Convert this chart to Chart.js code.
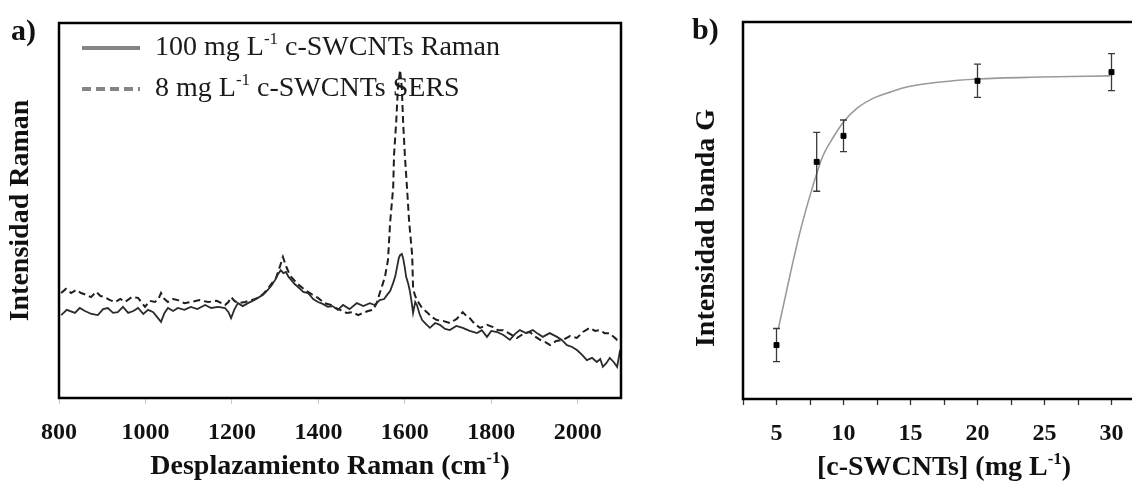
<!DOCTYPE html>
<html>
<head>
<meta charset="utf-8">
<script src="https://cdn.jsdelivr.net/npm/chart.js@4.4.1/dist/chart.umd.min.js"></script>
<style>
  html, body { margin: 0; padding: 0; background: #fff; overflow: hidden; }
  body { width: 1132px; height: 486px; position: relative; }
  canvas { position: absolute; top: 0; }
  #chart-a { left: 0; }
  #chart-b { left: 680px; }
  .panel-label { position: absolute; font: bold 30px "Liberation Serif", serif; line-height: 1; color: #111; }
</style>
</head>
<body>
<canvas id="chart-a" width="660" height="486"></canvas>
<canvas id="chart-b" width="482" height="486"></canvas>
<div class="panel-label" style="left:11px; top:15px">a)</div>
<div class="panel-label" style="left:692px; top:14px">b)</div>
<script>
/**
 * Data - a) spectra (Raman shift in cm-1, intensity in a.u.)
 */
const ramanShift100 = [805, 818, 837, 848, 860, 875, 890, 902, 913, 925, 936, 948, 960, 972, 983, 995, 1006, 1018, 1029, 1036,
    1044, 1052, 1064, 1075, 1090, 1105, 1120, 1138, 1152, 1168, 1184, 1192, 1198, 1206, 1214, 1225, 1237, 1248, 1260, 1272,
    1283, 1292, 1300, 1307, 1313, 1319, 1325, 1331, 1337, 1345, 1353, 1365, 1376, 1388, 1399, 1410, 1422, 1433, 1445, 1457,
    1472, 1489, 1504, 1519, 1530, 1542, 1552, 1559, 1566, 1573, 1578, 1582, 1586, 1589, 1593, 1596, 1600, 1603, 1608, 1612,
    1616, 1619, 1624, 1628, 1634, 1640, 1649, 1658, 1670, 1681, 1693, 1704, 1719, 1734, 1750, 1767, 1778, 1790, 1800, 1813,
    1828, 1843, 1855, 1866, 1880, 1896, 1908, 1919, 1935, 1952, 1963, 1975, 1987, 1998, 2010, 2021, 2033, 2044, 2052, 2058,
    2066, 2074, 2083, 2091, 2098];
const ramanIntensity100 = [22.1, 23.5, 22.7, 24.0, 23.2, 22.4, 22.1, 23.7, 24.0, 22.7, 22.9, 24.3, 22.7, 23.2, 24.0, 22.4, 23.5, 22.9, 21.3, 20.3,
    22.7, 24.0, 23.2, 24.0, 23.5, 24.3, 23.7, 24.8, 24.0, 24.3, 24.0, 22.9, 21.3, 23.7, 25.3, 24.5, 25.3, 25.9, 26.7, 27.5,
    28.8, 30.1, 31.5, 33.1, 34.1, 33.3, 33.6, 32.3, 31.5, 30.4, 29.6, 28.3, 28.0, 26.4, 25.6, 25.1, 24.3, 24.5, 23.5, 24.8,
    23.7, 25.3, 24.5, 25.3, 24.8, 26.1, 26.4, 27.5, 28.5, 30.7, 32.5, 34.9, 37.3, 38.1, 38.4, 37.3, 34.7, 32.3, 30.4, 28.3,
    25.3, 22.7, 25.6, 24.8, 22.4, 20.8, 19.7, 18.7, 20.0, 19.5, 18.4, 18.1, 19.2, 18.7, 17.9, 17.3, 18.1, 16.3, 17.9, 17.6,
    16.8, 15.5, 17.1, 18.1, 17.3, 18.1, 17.1, 16.3, 17.3, 16.3, 15.5, 14.1, 13.6, 12.8, 11.5, 10.1, 10.7, 9.6, 10.4, 8.3,
    9.3, 10.7, 9.6, 8.3, 12.8];

const sersShift8 = [805, 816, 828, 840, 851, 863, 874, 886, 896, 906, 918, 930, 942, 953, 968, 983, 992, 999, 1010, 1022,
    1030, 1036, 1044, 1052, 1064, 1075, 1090, 1105, 1125, 1145, 1165, 1184, 1192, 1198, 1206, 1214, 1230, 1245, 1260, 1272,
    1283, 1293, 1302, 1310, 1318, 1325, 1331, 1337, 1352, 1369, 1384, 1399, 1414, 1429, 1440, 1450, 1465, 1480, 1492, 1503,
    1515, 1526, 1535, 1542, 1548, 1554, 1561, 1566, 1573, 1575, 1580, 1584, 1589, 1593, 1596, 1600, 1605, 1610, 1617, 1619,
    1623, 1628, 1640, 1651, 1662, 1674, 1690, 1704, 1720, 1734, 1742, 1750, 1762, 1774, 1790, 1804, 1815, 1827, 1843, 1859,
    1874, 1889, 1900, 1913, 1925, 1936, 1950, 1966, 1982, 1998, 2012, 2028, 2040, 2051, 2062, 2074, 2083, 2091, 2098];
const sersIntensity8 = [28.0, 29.1, 28.0, 28.8, 28.0, 27.5, 26.9, 28.3, 27.2, 26.9, 26.1, 25.6, 26.4, 25.6, 26.9, 26.7, 25.3, 24.3, 25.9, 25.6,
    26.4, 28.0, 26.4, 25.6, 26.4, 26.1, 25.3, 25.6, 26.1, 25.6, 25.9, 24.8, 25.6, 26.9, 25.9, 25.3, 25.6, 26.1, 26.7, 27.7,
    29.1, 30.7, 32.0, 34.7, 37.6, 35.2, 33.6, 32.3, 30.4, 28.8, 27.7, 26.7, 25.3, 24.8, 24.0, 23.5, 22.7, 22.9, 22.1, 22.7,
    23.2, 23.5, 25.3, 28.0, 30.1, 32.3, 36.8, 46.9, 56.0, 64.8, 73.6, 82.7, 87.5, 82.7, 73.6, 64.8, 56.0, 46.9, 38.1, 29.3,
    27.5, 26.1, 24.0, 22.9, 21.6, 20.8, 20.5, 20.0, 21.1, 22.9, 21.9, 21.3, 19.7, 18.7, 19.5, 18.9, 18.1, 18.1, 17.1, 16.0,
    17.1, 17.6, 16.5, 15.5, 14.9, 14.1, 15.2, 15.5, 16.5, 16.0, 17.6, 18.7, 17.9, 18.1, 17.3, 17.3, 16.3, 15.5, 15.5];

const spectrumLabels = ["100 mg L⁻¹ c-SWCNTs Raman", "8 mg L⁻¹ c-SWCNTs SERS"];
const shiftMin = 800;
const shiftMax = 2100;
const shiftStep = 200;

/**
 * Data - b) G band intensity vs concentration
 */
const concentration = [5, 8, 10, 20, 30];
const bandIntensity = [14.3, 62.9, 69.8, 84.4, 86.7];
const bandError = [4.4, 7.8, 4.2, 4.4, 4.9];
const fitConcentration = [5.15, 6.04, 6.79, 7.69, 8.43, 9.25, 10.0, 11.04, 12.24, 13.5, 14.78, 17.24, 20, 24.7, 29.9];
const fitIntensity = [18.8, 33.4, 44.8, 56.2, 64.2, 69.5, 73.5, 77.2, 79.8, 81.4, 82.8, 84.1, 84.9, 85.4, 85.7];
const concMin = 2.5;
const concMax = 32.5;
const concStep = 2.5;


/**
 * Helpers
 */
const SERIF = '"Liberation Serif", "DejaVu Serif", serif';

function toPoints(xs, ys) {
    return xs.map((x, i) => ({ x: x, y: ys[i] }));
}

// width of a text where "⁻¹" becomes a small raised "-1"
function measureSuperText(ctx, text, size, weight) {
    const parts = text.split('⁻¹');
    let width = 0;
    parts.forEach((part, i) => {
        ctx.font = weight + ' ' + size + 'px ' + SERIF;
        width += ctx.measureText(part).width;
        if (i < parts.length - 1) {
            ctx.font = weight + ' ' + Math.round(size * 0.6) + 'px ' + SERIF;
            width += ctx.measureText('-1').width;
        }
    });
    return width;
}

function drawSuperText(ctx, text, x, y, size, weight) {
    const parts = text.split('⁻¹');
    const supSize = Math.round(size * 0.6);
    ctx.textBaseline = 'middle';
    ctx.textAlign = 'left';
    let cursor = x;
    parts.forEach((part, i) => {
        ctx.font = weight + ' ' + size + 'px ' + SERIF;
        ctx.fillText(part, cursor, y);
        cursor += ctx.measureText(part).width;
        if (i < parts.length - 1) {
            ctx.font = weight + ' ' + supSize + 'px ' + SERIF;
            ctx.fillText('-1', cursor, y - size * 0.3);
            cursor += ctx.measureText('-1').width;
        }
    });
}

const frameBox = {
    id: 'frameBox',
    afterDatasetsDraw(chart) {
        const { ctx, chartArea } = chart;
        ctx.save();
        ctx.strokeStyle = '#000';
        ctx.lineWidth = 2.5;
        ctx.strokeRect(chartArea.left, chartArea.top, chartArea.right - chartArea.left, chartArea.bottom - chartArea.top);
        ctx.restore();
    }
};

// x axis title with a real superscript
const xTitle = {
    id: 'xTitle',
    afterDraw(chart, args, opts) {
        const { ctx, chartArea } = chart;
        ctx.save();
        ctx.fillStyle = '#111';
        const width = measureSuperText(ctx, opts.text, 28, 'bold');
        const cx = (chartArea.left + chartArea.right) / 2 + (opts.dx || 0);
        drawSuperText(ctx, opts.text, cx - width / 2, opts.y, 28, 'bold');
        ctx.restore();
    }
};

const lineLegend = {
    id: 'lineLegend',
    afterDraw(chart) {
        const { ctx, chartArea } = chart;
        chart.data.datasets.forEach((dataset, i) => {
            const x = chartArea.left + 23;
            const y = chartArea.top + 25 + i * 41;
            ctx.save();
            ctx.strokeStyle = '#858585';
            ctx.lineWidth = 4;
            ctx.setLineDash(dataset.borderDash ? [9, 5] : []);
            ctx.beginPath();
            ctx.moveTo(x, y);
            ctx.lineTo(x + 58, y);
            ctx.stroke();
            ctx.setLineDash([]);
            ctx.fillStyle = '#1a1a1a';
            drawSuperText(ctx, dataset.label, x + 73, y, 28, 'normal');
            ctx.restore();
        });
    }
};

const errorBars = {
    id: 'errorBars',
    afterDatasetDraw(chart, args) {
        if (args.index !== 0) return;
        const { ctx, scales } = chart;
        ctx.save();
        ctx.strokeStyle = '#3a3a3a';
        ctx.lineWidth = 1.3;
        concentration.forEach((c, i) => {
            const x = scales.x.getPixelForValue(c);
            const yTop = scales.y.getPixelForValue(bandIntensity[i] + bandError[i]);
            const yBot = scales.y.getPixelForValue(bandIntensity[i] - bandError[i]);
            ctx.beginPath();
            ctx.moveTo(x, yTop); ctx.lineTo(x, yBot);
            ctx.moveTo(x - 3.5, yTop); ctx.lineTo(x + 3.5, yTop);
            ctx.moveTo(x - 3.5, yBot); ctx.lineTo(x + 3.5, yBot);
            ctx.stroke();
        });
        ctx.restore();
    }
};

const tickFont = { family: SERIF, size: 24, weight: 'bold', lineHeight: 1 };
const titleFont = { family: SERIF, size: 28, weight: 'bold', lineHeight: 1 };


/**
 * a) Spectra
 */
const spectrumChart = initSpectrumChart();

function initSpectrumChart() {
    const ctx = document.getElementById('chart-a');

    return new Chart(ctx, {
        type: 'line',
        data: {
            datasets: [
                {
                    label: spectrumLabels[0],
                    data: toPoints(ramanShift100, ramanIntensity100),
                    borderColor: '#2b2b2b',
                    borderWidth: 1.8,
                    pointRadius: 0,
                    tension: 0
                },
                {
                    label: spectrumLabels[1],
                    data: toPoints(sersShift8, sersIntensity8),
                    borderColor: '#1f1f1f',
                    borderWidth: 2,
                    borderDash: [7, 4],
                    pointRadius: 0,
                    tension: 0
                }
            ]
        },
        options: {
            responsive: false,
            animation: false,
            layout: { padding: { left: 0, top: 23, right: 39, bottom: 0 } },
            scales: {
                x: {
                    type: 'linear',
                    min: shiftMin,
                    max: shiftMax,
                    afterFit: (scale) => { scale.height = 88; },
                    ticks: {
                        stepSize: shiftStep,
                        includeBounds: false,
                        autoSkip: false,
                        maxRotation: 0,
                        padding: 17,
                        color: '#111',
                        font: tickFont,
                        callback: (value) => String(value)
                    },
                    grid: {
                        drawOnChartArea: false,
                        drawTicks: true,
                        tickLength: 6,
                        tickColor: '#c8c8c8',
                        tickWidth: 1
                    },
                    border: { display: false }
                },
                y: {
                    min: 0,
                    max: 100,
                    afterFit: (scale) => { scale.width = 59; },
                    ticks: { display: false },
                    grid: { display: false },
                    border: { display: false },
                    title: {
                        display: true,
                        text: 'Intensidad Raman',
                        color: '#111',
                        font: titleFont,
                        padding: { top: 7, bottom: 0 }
                    }
                }
            },
            plugins: {
                legend: { display: false },
                tooltip: { enabled: false },
                xTitle: { text: 'Desplazamiento Raman (cm⁻¹)', y: 467, dx: -10 }
            }
        },
        plugins: [frameBox, lineLegend, xTitle]
    });
}


/**
 * b) G band intensity
 */
const bandChart = initBandChart();

function initBandChart() {
    const ctx = document.getElementById('chart-b');

    return new Chart(ctx, {
        type: 'scatter',
        data: {
            datasets: [
                {
                    type: 'line',
                    label: 'ajuste',
                    data: toPoints(fitConcentration, fitIntensity),
                    borderColor: '#9a9a9a',
                    borderWidth: 1.6,
                    pointRadius: 0,
                    cubicInterpolationMode: 'monotone',
                    order: 2
                },
                {
                    label: 'Intensidad banda G',
                    data: toPoints(concentration, bandIntensity),
                    pointStyle: 'rect',
                    pointRadius: 3.5,
                    backgroundColor: '#000',
                    borderColor: '#000',
                    borderWidth: 1,
                    order: 1
                }
            ]
        },
        options: {
            responsive: false,
            animation: false,
            layout: { padding: { left: 0, top: 22, right: 5, bottom: 0 } },
            scales: {
                x: {
                    type: 'linear',
                    min: concMin,
                    max: concMax,
                    afterFit: (scale) => { scale.height = 87; },
                    ticks: {
                        stepSize: concStep,
                        autoSkip: false,
                        maxRotation: 0,
                        padding: 17,
                        color: '#111',
                        font: tickFont,
                        callback: (value) => (value % 5 === 0 ? String(value) : '')
                    },
                    grid: {
                        drawOnChartArea: false,
                        drawTicks: true,
                        tickLength: 6,
                        tickColor: '#333',
                        tickWidth: 1.3
                    },
                    border: { display: false }
                },
                y: {
                    min: 0,
                    max: 100,
                    afterFit: (scale) => { scale.width = 63; },
                    ticks: { display: false },
                    grid: { display: false },
                    border: { display: false },
                    title: {
                        display: true,
                        text: 'Intensidad banda G\u00a0\u00a0\u00a0\u00a0\u00a0',
                        color: '#111',
                        font: titleFont,
                        padding: { top: 13, bottom: 0 }
                    }
                }
            },
            plugins: {
                legend: { display: false },
                tooltip: { enabled: false },
                xTitle: { text: '[c-SWCNTs] (mg L⁻¹)', y: 468, dx: 0 }
            }
        },
        plugins: [frameBox, errorBars, xTitle]
    });
}
</script>
</body>
</html>
